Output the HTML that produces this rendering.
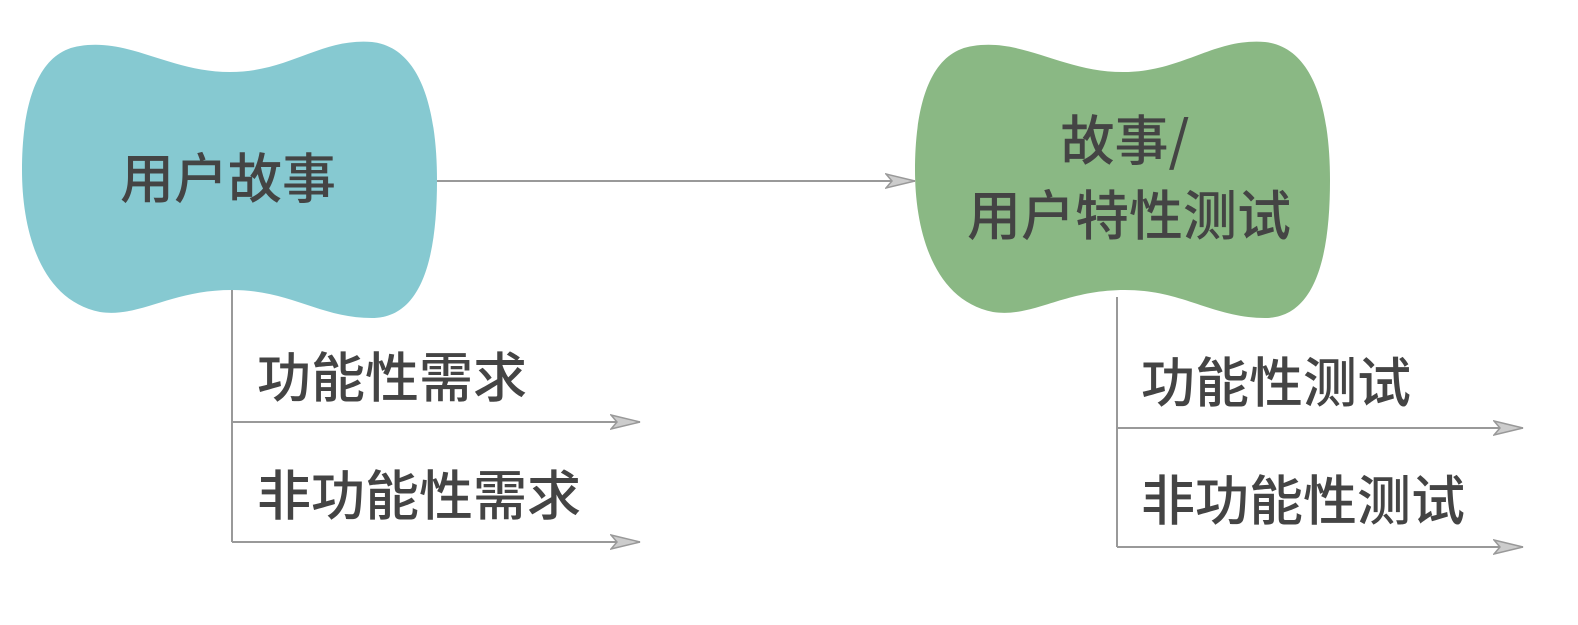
<!DOCTYPE html>
<html><head><meta charset="utf-8"><style>
html,body{margin:0;padding:0;background:#fff;}
svg text{font-family:"Noto Sans CJK SC","Liberation Sans",sans-serif;fill:#444;font-weight:500;}
</style></head><body>
<svg width="1578" height="620" viewBox="0 0 1578 620" xmlns="http://www.w3.org/2000/svg">
<defs>
<marker id="a" markerWidth="32" markerHeight="18" refX="30" refY="9" orient="auto" markerUnits="userSpaceOnUse">
<path d="M1,2 L30,9 L1,16 L7,9 Z" fill="#ccc" stroke="#999" stroke-width="1.5"/>
</marker>
</defs>
<path id="b" d="M80,46 C130,38 170,72 230,72 C290,72 320,38 372,42 C425,48 437,120 437,180 C437,250 425,318 372,318 C320,318 290,290 232,290 C170,290 140,318 100,312 C40,300 22,230 22,170 C22,110 35,52 80,46 Z" fill="#86C9D1"/>
<g transform="translate(893,0)">
<path d="M80,46 C130,38 170,72 230,72 C290,72 320,38 372,42 C425,48 437,120 437,180 C437,250 425,318 372,318 C320,318 290,290 232,290 C170,290 140,318 100,312 C40,300 22,230 22,170 C22,110 35,52 80,46 Z" fill="#8AB884"/>
</g>
<g stroke="#999" stroke-width="2" fill="none">
<line x1="437" y1="181" x2="915" y2="181" marker-end="url(#a)"/>
<polyline points="232,290 232,542"/>
<line x1="232" y1="422" x2="640" y2="422" marker-end="url(#a)"/>
<line x1="232" y1="542" x2="640" y2="542" marker-end="url(#a)"/>
<polyline points="1117,297 1117,547"/>
<line x1="1117" y1="428" x2="1523" y2="428" marker-end="url(#a)"/>
<line x1="1117" y1="547" x2="1523" y2="547" marker-end="url(#a)"/>
</g>
<text x="228" y="198" font-size="54" text-anchor="middle">用户故事</text>
<text x="1125" y="160" font-size="54" text-anchor="middle">故事/</text>
<text x="1129" y="235" font-size="54" text-anchor="middle">用户特性测试</text>
<text x="257" y="397" font-size="54">功能性需求</text>
<text x="257" y="515" font-size="54">非功能性需求</text>
<text x="1141" y="402" font-size="54">功能性测试</text>
<text x="1141" y="520" font-size="54">非功能性测试</text>
</svg>
</body></html>
